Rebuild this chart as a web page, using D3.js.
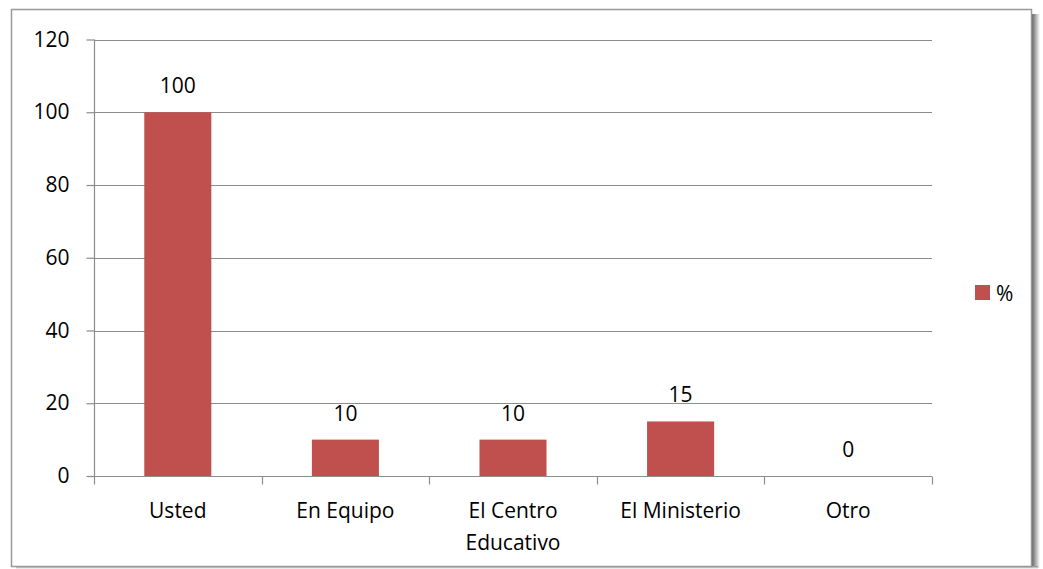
<!DOCTYPE html>
<html>
<head>
<meta charset="utf-8">
<script src="https://cdn.jsdelivr.net/npm/d3@7"></script>
<style>
  body { margin: 0; background: #fff; }
  text { font-family: "Open Sans", "Liberation Sans", sans-serif; fill: #000; }
</style>
</head>
<body>
<script>
const categories = [["Usted"], ["En Equipo"], ["El Centro", "Educativo"], ["El Ministerio"], ["Otro"]];
const values = [100, 10, 10, 15, 0];
const yTicks = [0, 20, 40, 60, 80, 100, 120];
const seriesName = "%";

const width = 1043, height = 569;
const barColor = "#C0504D";
const fs = 21;

const svg = d3.select("body").append("svg")
  .attr("width", width)
  .attr("height", height);

// shadowed frame
const defs = svg.append("defs");
const gr = defs.append("linearGradient").attr("id", "shadowR");
gr.append("stop").attr("offset", "0%").attr("stop-color", "#666");
gr.append("stop").attr("offset", "100%").attr("stop-color", "#fff");
const gb = defs.append("linearGradient").attr("id", "shadowB")
  .attr("x1", 0).attr("y1", 0).attr("x2", 0).attr("y2", 1);
gb.append("stop").attr("offset", "0%").attr("stop-color", "#888");
gb.append("stop").attr("offset", "100%").attr("stop-color", "#fff");

svg.append("rect").attr("x", 1032).attr("y", 14).attr("width", 8).attr("height", 554)
  .attr("fill", "url(#shadowR)");
svg.append("rect").attr("x", 16).attr("y", 566).attr("width", 1022).attr("height", 3)
  .attr("fill", "url(#shadowB)");
svg.append("rect").attr("x", 11.5).attr("y", 9.5).attr("width", 1020).attr("height", 557)
  .attr("fill", "#fff").attr("stroke", "#999").attr("stroke-width", 1.5);

const margin = { left: 94, right: 932, top: 39.5, bottom: 476 };

const x = d3.scaleBand()
  .domain(d3.range(categories.length))
  .range([margin.left, margin.right])
  .paddingInner(0.6).paddingOuter(0.3);

const band = d3.scaleBand()
  .domain(d3.range(categories.length))
  .range([margin.left, margin.right]);

const y = d3.scaleLinear().domain([0, 120]).range([margin.bottom, margin.top]);

// gridlines
svg.append("g").selectAll("line").data(yTicks.slice(1)).join("line")
  .attr("x1", margin.left).attr("x2", margin.right)
  .attr("y1", d => Math.round(y(d)) + 0.5).attr("y2", d => Math.round(y(d)) + 0.5)
  .attr("stroke", "#8c8c8c").attr("stroke-width", 1.2);

// y axis
const yAxis = svg.append("g")
  .attr("transform", `translate(${margin.left + 0.5},0)`)
  .call(d3.axisLeft(y).tickValues(yTicks).tickSize(8).tickPadding(17));
yAxis.select(".domain").attr("stroke", "#8c8c8c").attr("stroke-width", 1.2).attr("d", `M0,${margin.top}V${margin.bottom}`);
yAxis.selectAll(".tick line").attr("stroke", "#8c8c8c").attr("stroke-width", 1.2);
yAxis.selectAll(".tick text").attr("font-size", fs).attr("fill", "#000")
  .style("font-family", "'Open Sans', 'Liberation Sans', sans-serif");

// bars
svg.append("g").selectAll("rect").data(values).join("rect")
  .attr("x", (d, i) => x(i))
  .attr("width", x.bandwidth())
  .attr("y", d => y(d))
  .attr("height", d => y(0) - y(d))
  .attr("fill", barColor);

// x axis
const xAxisY = Math.round(y(0)) + 0.5;
svg.append("line")
  .attr("x1", margin.left).attr("x2", margin.right)
  .attr("y1", xAxisY).attr("y2", xAxisY)
  .attr("stroke", "#8c8c8c").attr("stroke-width", 1.2);
const tickXs = d3.range(categories.length + 1).map(i => margin.left + i * band.bandwidth());
svg.append("g").selectAll("line").data(tickXs).join("line")
  .attr("x1", d => Math.round(d) + 0.5).attr("x2", d => Math.round(d) + 0.5)
  .attr("y1", xAxisY).attr("y2", xAxisY + 8)
  .attr("stroke", "#8c8c8c").attr("stroke-width", 1.2);

// category labels
const catText = svg.append("g").selectAll("text").data(categories).join("text")
  .attr("text-anchor", "middle")
  .attr("font-size", fs)
  .attr("x", (d, i) => band(i) + band.bandwidth() / 2)
  .attr("y", 518);
catText.selectAll("tspan").data(d => d).join("tspan")
  .attr("x", function () { return d3.select(this.parentNode).attr("x"); })
  .attr("dy", (d, j) => j === 0 ? 0 : 32)
  .text(d => d);

// value labels
svg.append("g").selectAll("text").data(values).join("text")
  .attr("text-anchor", "middle")
  .attr("font-size", fs)
  .attr("x", (d, i) => x(i) + x.bandwidth() / 2)
  .attr("y", d => y(d) - 19)
  .text(d => d);

// legend
svg.append("rect").attr("x", 975).attr("y", 285).attr("width", 15).attr("height", 15)
  .attr("fill", barColor);
svg.append("text").attr("x", 996).attr("y", 301).attr("font-size", fs).text(seriesName);
</script>
</body>
</html>
